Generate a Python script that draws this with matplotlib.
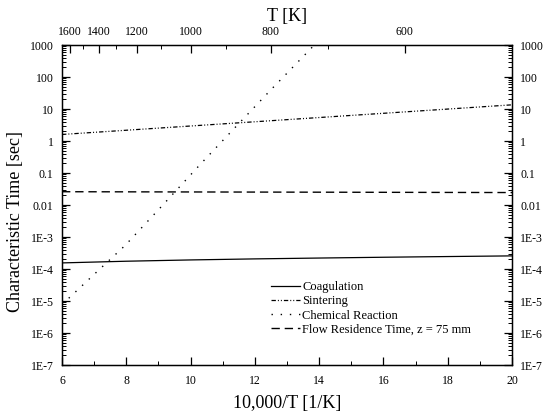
import matplotlib
matplotlib.use("Agg")
import matplotlib.pyplot as plt
import numpy as np

plt.rcParams['font.family'] = ['Liberation Serif', 'DejaVu Serif']

# inverse temperature, 10,000/T [1/K]
x_coag = [6, 8, 10, 12, 14, 16, 18, 20]
t_coag = [1.55e-4, 1.75e-4, 1.92e-4, 2.07e-4, 2.2e-4, 2.33e-4, 2.45e-4, 2.57e-4]

x_sint = [6, 20]
t_sint = [1.6, 13.5]

x_chem = [6.0, 6.29, 7.0, 7.96, 9.0, 10.32, 11.5, 12.5, 13.63, 13.85]
t_chem = [7.8e-6, 1.45e-5, 6.8e-5, 5.4e-4, 7.1e-3, 0.195, 3.5, 40.0, 590.0, 1000.0]

x_flow = [6, 20]
t_flow = [0.026, 0.0245]

y_ticks = [1e-7, 1e-6, 1e-5, 1e-4, 1e-3, 1e-2, 1e-1, 1, 10, 100, 1000]
y_labels = ['1E-7', '1E-6', '1E-5', '1E-4', '1E-3', '0.01', '0.1', '1', '10', '100', '1000']

T_major = [1600, 1400, 1200, 1000, 800, 600]
T_minor = [1500, 1300, 1100, 900, 700, 500]

fig = plt.figure(figsize=(5.44, 4.17), dpi=100)
ax = fig.add_axes([62/544, 1 - 365/417, 450/544, 320/417])

ax.plot(x_coag, t_coag, color='black', lw=0.9, ls='-', label='Coagulation')
ax.plot(x_sint, t_sint, color='black', lw=0.9, ls=(0, (3.5, 1.6, 0.8, 1.6, 0.8, 1.6)), label='Sintering')
ax.plot(x_chem, t_chem, color='black', lw=1.0, ls=(0, (1, 5.6)), label='Chemical Reaction')
ax.plot(x_flow, t_flow, color='black', lw=1.0, ls=(0, (6, 3.5)), label='Flow Residence Time, z = 75 mm')

ax.set_yscale('log')
ax.set_xlim(6, 20)
ax.set_ylim(1e-7, 1000)
ax.set_yticks(y_ticks)
ax.set_yticklabels(y_labels)
ax.yaxis.set_minor_locator(matplotlib.ticker.LogLocator(base=10, subs=np.arange(2, 10), numticks=20))
ax.yaxis.set_minor_formatter(matplotlib.ticker.NullFormatter())
ax.set_xticks(np.arange(6, 21, 2))
ax.set_xticks(np.arange(7, 20, 2), minor=True)
ax.tick_params(which='both', direction='in', right=True, labelright=True, top=False, labelsize=8.5)
ax.tick_params(which='major', length=6, width=0.9)
ax.tick_params(which='minor', length=3, width=0.7)
ax.tick_params(axis='x', pad=7)
ax.tick_params(axis='y', pad=6)
for s in ax.spines.values():
    s.set_linewidth(1.0)

ax.set_xlabel('10,000/T [1/K]', fontsize=13, labelpad=6)
ax.set_ylabel('Characteristic Time [sec]', fontsize=13)
ax.yaxis.set_label_coords(-0.085, 0.45)

ax2 = ax.twiny()
ax2.set_xlim(ax.get_xlim())
ax2.set_xticks([10000/T for T in T_major])
ax2.set_xticklabels([str(T) for T in T_major])
ax2.set_xticks([10000/T for T in T_minor], minor=True)
ax2.tick_params(which='both', direction='in', labelsize=8.5, pad=5)
ax2.tick_params(which='major', length=6, width=0.9)
ax2.tick_params(which='minor', length=3, width=0.7)
ax2.set_xlabel('T [K]', fontsize=13, labelpad=4)

ax.legend(loc='lower left', bbox_to_anchor=(0.44, 0.056), frameon=False, fontsize=9,
          handlelength=2.3, handletextpad=0.2, labelspacing=0.18)

fig.savefig('out.png', dpi=100)
